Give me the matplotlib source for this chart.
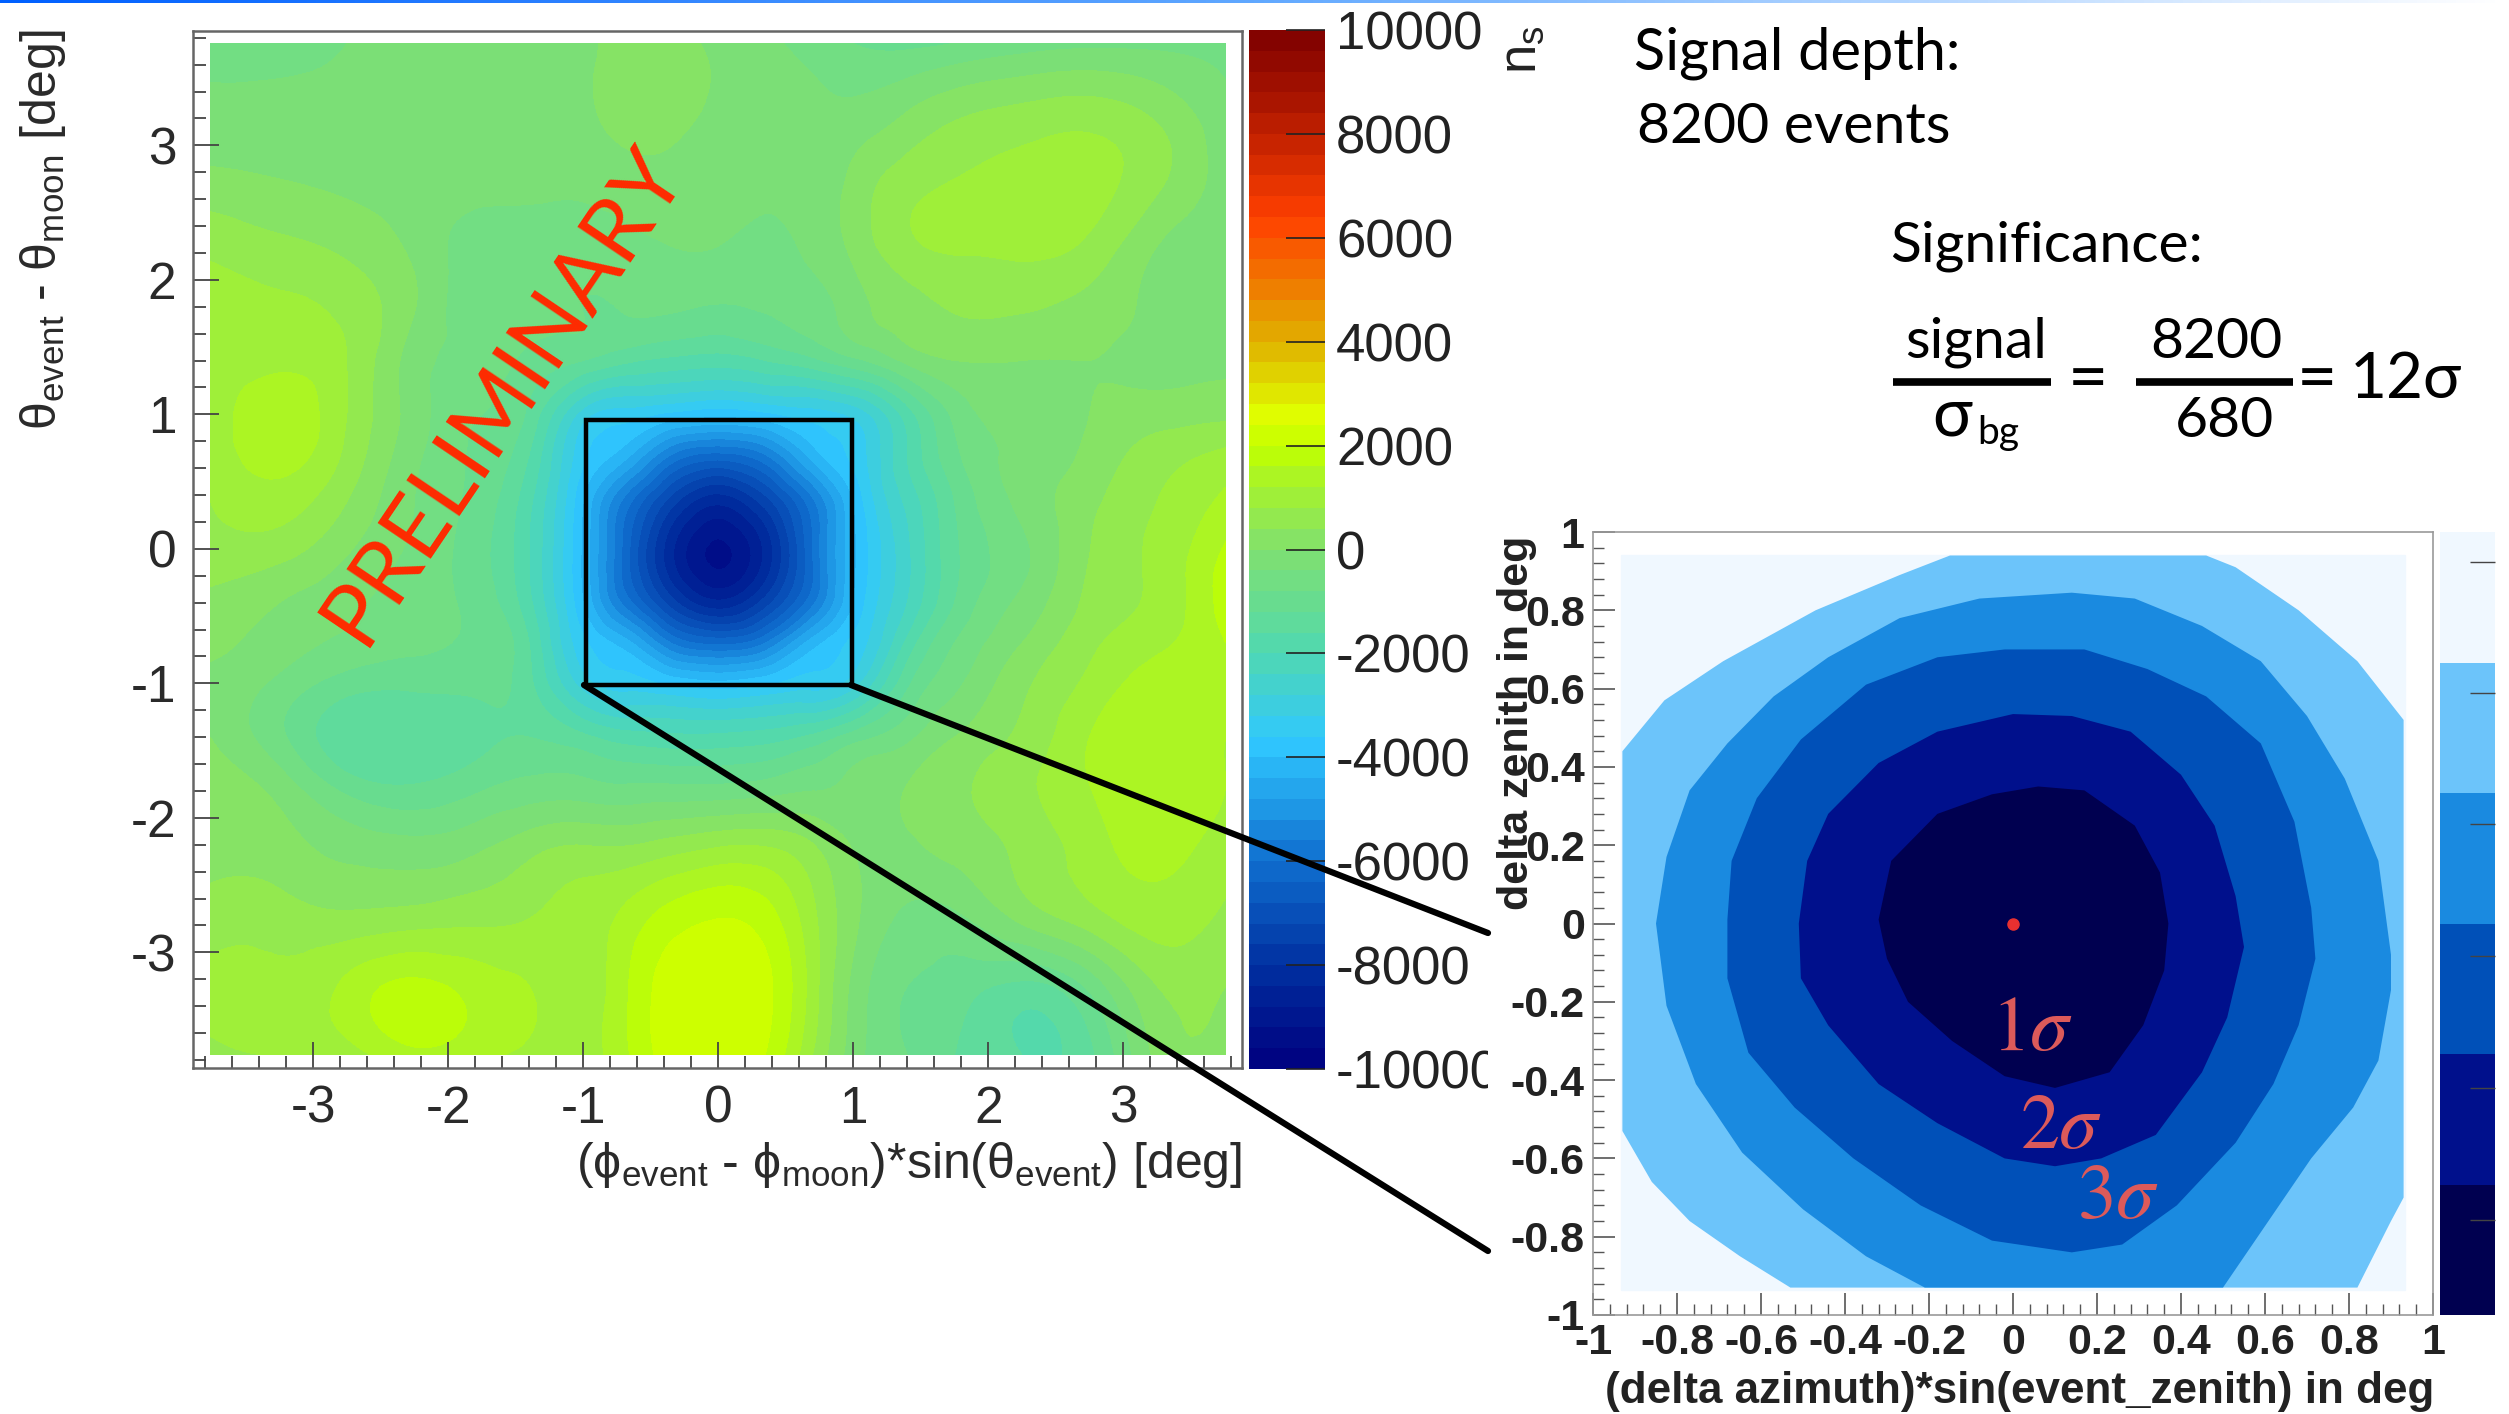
import matplotlib
matplotlib.use('Agg')
import matplotlib.pyplot as plt
import matplotlib.tri as mtri
import numpy as np
from matplotlib.colors import LinearSegmentedColormap
from matplotlib.patches import Rectangle
from matplotlib.ticker import MultipleLocator

W, H = 2509, 1414

plt.rcParams['font.family'] = ['Liberation Sans', 'DejaVu Sans']
plt.rcParams['mathtext.fontset'] = 'custom'
plt.rcParams['mathtext.rm'] = 'Liberation Sans'
plt.rcParams['mathtext.it'] = 'Liberation Sans'
plt.rcParams['mathtext.bf'] = 'Liberation Sans:bold'
plt.rcParams['axes.unicode_minus'] = False

# main map
grid_x = [-3.76, -3.25, -2.75, -2.25, -1.75, -1.4, -1.0, -0.7, -0.35, 0,
          0.35, 0.7, 1.0, 1.4, 1.75, 2.25, 2.75, 3.25, 3.76]
grid_y = [3.76, 3.25, 2.75, 2.25, 1.75, 1.4, 1.0, 0.7, 0.35, -0.05,
          -0.4, -0.7, -1.0, -1.4, -1.75, -2.25, -2.75, -3.25, -3.76]
ns_map = [
    [-500, -500, -400, -300, -300, -300, -200, 300, 200, -100, -300, -600, -800, -900, -800, -600, -500, -500, -500],
    [-300, -300, -300, -300, -300, -300, -100, 200, 200, -100, -200, -300, -300, 0, 300, 500, 600, 300, -300],
    [100, 0, -100, -200, -300, -300, -300, -200, -200, -300, -300, -300, 100, 600, 800, 950, 950, 500, -200],
    [700, 500, 300, -100, -600, -600, -600, -500, -400, -400, -500, -300, 100, 700, 850, 900, 700, 0, -300],
    [900, 900, 700, 0, -700, -700, -800, -800, -800, -900, -800, -600, -200, 200, 400, 400, 200, -100, -300],
    [900, 1100, 800, -200, -600, -900, -1200, -1500, -1700, -1800, -1600, -1300, -900, -300, 0, 0, 0, -100, -100],
    [900, 1500, 800, -200, -800, -1300, -3000, -3400, -3700, -3900, -3700, -3400, -3100, -1800, -700, -300, 0, 200, 300],
    [900, 1400, 700, -300, -900, -1600, -3500, -4200, -5600, -6100, -5600, -4200, -3500, -2000, -900, -300, 100, 600, 900],
    [800, 1000, 400, -400, -1000, -1900, -4000, -5700, -7400, -8300, -7400, -5700, -4000, -2300, -1200, -300, 300, 800, 1300],
    [600, 500, 0, -500, -1100, -2000, -4100, -6100, -8300, -9300, -8300, -6000, -4100, -2500, -1300, -500, 400, 900, 1700],
    [300, 0, -300, -600, -1000, -1900, -4000, -5700, -7400, -8300, -7400, -5700, -4000, -2400, -1200, -300, 500, 900, 1800],
    [100, -200, -500, -700, -900, -1600, -3500, -4200, -5600, -6100, -5600, -4200, -3500, -1900, -800, 0, 700, 1100, 1600],
    [-100, -500, -1000, -1100, -1100, -1500, -3000, -3400, -3700, -3900, -3700, -3400, -3000, -1300, -500, 300, 900, 1400, 1400],
    [0, -700, -1500, -1500, -1300, -1200, -1500, -1800, -1900, -1900, -1800, -1500, -1000, -500, 0, 500, 1200, 1600, 1200],
    [200, -200, -1000, -1200, -900, -700, -700, -800, -800, -800, -700, -500, -300, 0, 300, 700, 1200, 1500, 1200],
    [300, 200, -100, -200, 0, 300, 500, 500, 700, 900, 900, 500, 0, -100, 100, 500, 1000, 1300, 1000],
    [600, 600, 500, 600, 700, 800, 1000, 1300, 1800, 2000, 1800, 900, 100, -500, -500, 100, 600, 1000, 700],
    [900, 900, 1300, 1700, 1400, 1200, 1000, 1500, 2200, 2300, 2100, 1000, -100, -800, -1000, -1300, -700, 400, 400],
    [700, 800, 1000, 1500, 1300, 1100, 1000, 1500, 2200, 2300, 2000, 800, -200, -800, -1200, -1600, -1300, 100, 200],
]

# colour bar anchors, value -> colour
cbar_vals = [-10000, -8000, -6000, -3700, -2000, 0, 2000, 2600, 4000, 6400, 8000, 10000]
cbar_cols = ['#00007f', '#0030a0', '#1070d0', '#30c8ff', '#50d8b0', '#80e070',
             '#c0ff00', '#e0ff00', '#e0b000', '#ff4000', '#c02000', '#7f0000']
cbar_ticks = [-10000, -8000, -6000, -4000, -2000, 0, 2000, 4000, 6000, 8000, 10000]

# sigma contours of the zoomed map, outermost first
c0_x = [-0.93, -0.83, -0.69, -0.47, -0.27, -0.15, 0.46, 0.53, 0.68, 0.82, 0.93, 0.93, 0.90, 0.82, -0.53, -0.65, -0.77, -0.86, -0.93]
c0_y = [0.44, 0.57, 0.67, 0.80, 0.89, 0.94, 0.94, 0.91, 0.80, 0.67, 0.52, -0.70, -0.76, -0.93, -0.93, -0.85, -0.76, -0.66, -0.53]
c1_x = [-0.85, -0.825, -0.77, -0.68, -0.57, -0.44, -0.27, -0.08, 0.14, 0.29, 0.45, 0.59, 0.70, 0.79, 0.87, 0.90, 0.90, 0.87, 0.81, 0.71, 0.57, 0.50, -0.21, -0.35, -0.50, -0.645, -0.755, -0.825]
c1_y = [0, 0.17, 0.34, 0.46, 0.58, 0.68, 0.78, 0.83, 0.845, 0.83, 0.76, 0.67, 0.53, 0.37, 0.16, -0.08, -0.17, -0.35, -0.47, -0.60, -0.82, -0.93, -0.93, -0.85, -0.73, -0.585, -0.41, -0.21]
c2_x = [-0.68, -0.67, -0.61, -0.505, -0.35, -0.18, -0.02, 0.17, 0.32, 0.46, 0.59, 0.67, 0.71, 0.72, 0.68, 0.62, 0.53, 0.39, 0.26, 0.14, -0.05, -0.22, -0.38, -0.52, -0.63, -0.68]
c2_y = [0.01, 0.16, 0.32, 0.47, 0.61, 0.68, 0.70, 0.70, 0.65, 0.58, 0.46, 0.26, 0.04, -0.09, -0.26, -0.41, -0.56, -0.72, -0.82, -0.84, -0.81, -0.72, -0.60, -0.47, -0.33, -0.14]
c3_x = [-0.51, -0.49, -0.44, -0.32, -0.18, 0, 0.14, 0.28, 0.40, 0.48, 0.53, 0.55, 0.51, 0.45, 0.34, 0.21, 0.10, -0.02, -0.18, -0.32, -0.44, -0.505]
c3_y = [0, 0.16, 0.28, 0.41, 0.49, 0.535, 0.53, 0.49, 0.38, 0.25, 0.07, -0.06, -0.24, -0.38, -0.54, -0.60, -0.62, -0.60, -0.51, -0.41, -0.26, -0.14]
c4_x = [-0.32, -0.29, -0.18, -0.05, 0.06, 0.17, 0.29, 0.35, 0.37, 0.36, 0.31, 0.23, 0.10, -0.02, -0.145, -0.25, -0.30]
c4_y = [0.01, 0.16, 0.28, 0.33, 0.35, 0.34, 0.25, 0.13, 0, -0.12, -0.26, -0.38, -0.42, -0.39, -0.30, -0.20, -0.09]
sigma_cols = ['#6cc4fa', '#1a8ae0', '#0050b8', '#00108c', '#000050']
inset_bands = ['#000050', '#00108c', '#0050b8', '#1a8ae0', '#6cc4fa', '#f0f8ff']
inset_ticks = [0.73, 1.74, 2.75, 3.76, 4.77, 5.77]

sigma_labels = [r'$1\sigma$', r'$2\sigma$', r'$3\sigma$']
sigma_lab_x = [0.045, 0.115, 0.25]
sigma_lab_y = [-0.27, -0.52, -0.70]


def rect(l, t, r, b):
    return [l / W, 1 - b / H, (r - l) / W, (b - t) / H]


fig = plt.figure(figsize=(W / 100, H / 100), dpi=100)

# thin blue rule along the top edge
ax_rule = fig.add_axes(rect(0, 0, W, 3))
ax_rule.imshow([np.linspace(0, 1, 256)], aspect='auto',
               cmap=LinearSegmentedColormap.from_list('rule', ['#0060ff', '#60a8ff', '#ffffff']))
ax_rule.axis('off')

# main map
ax = fig.add_axes(rect(193, 31, 1242, 1068))
cmap = LinearSegmentedColormap.from_list(
    'ns', [((v + 10000) / 20000, c) for v, c in zip(cbar_vals, cbar_cols)])
levels = np.arange(-10000, 10001, 400)
# read values sit on a coarse grid, refine so the bands come out round
gx, gy = np.meshgrid(grid_x, grid_y)
tri = mtri.Triangulation(gx.ravel(), gy.ravel())
tri_fine, z_fine = mtri.UniformTriRefiner(tri).refine_field(np.array(ns_map, dtype=float).ravel(), subdiv=3)
cf = ax.tricontourf(tri_fine, z_fine, levels=levels, cmap=cmap, vmin=-10000, vmax=10000)
ax.set_xlim(-3.89, 3.88)
ax.set_ylim(-3.86, 3.85)
ax.set_xticks([-3, -2, -1, 0, 1, 2, 3])
ax.set_yticks([-3, -2, -1, 0, 1, 2, 3])
ax.xaxis.set_minor_locator(MultipleLocator(0.2))
ax.yaxis.set_minor_locator(MultipleLocator(0.2))
ax.tick_params(which='major', direction='in', length=19, width=1.3, color='#444444',
               labelsize=37, labelcolor='#2a2a2a', pad=12)
ax.tick_params(which='minor', direction='in', length=9, width=1.3, color='#444444')
for s in ax.spines.values():
    s.set_color('#666666')
    s.set_linewidth(1.8)
ax.add_patch(Rectangle((-0.98, -1.01), 1.97, 1.97, fill=False, ec='black', lw=3.2, zorder=5))

# colour bar
cax = fig.add_axes(rect(1249, 30, 1325, 1069))
cb = fig.colorbar(cf, cax=cax, ticks=cbar_ticks)
cb.outline.set_visible(False)
cax.tick_params(which='major', direction='in', length=28, width=1.2, color='#222222',
                labelsize=38, labelcolor='#222222', pad=8)
cax.minorticks_off()
cax.set_yticklabels([str(t) for t in cbar_ticks])

# the zoomed panel sits on a white card that cuts off whatever runs under it
ax_card = fig.add_axes(rect(1488, 520, W, H), zorder=3)
ax_card.set_facecolor('white')
ax_card.set_xticks([])
ax_card.set_yticks([])
for s in ax_card.spines.values():
    s.set_visible(False)

ax2 = fig.add_axes(rect(1593, 532, 2433, 1315), zorder=4)
ax2.set_xlim(-1, 1)
ax2.set_ylim(-1, 1)
ax2.fill([-0.934, 0.934, 0.934, -0.934], [-0.936, -0.936, 0.94, 0.94], color='#f0f8ff')
for cx, cy, col in zip([c0_x, c1_x, c2_x, c3_x, c4_x], [c0_y, c1_y, c2_y, c3_y, c4_y], sigma_cols):
    ax2.fill(cx, cy, color=col, lw=0)
ax2.plot([0], [0], 'o', color='#e83030', ms=8)
for s, x, y in zip(sigma_labels, sigma_lab_x, sigma_lab_y):
    ax2.text(x, y, s, color='#dc5a5a', fontsize=56, ha='center', va='center', math_fontfamily='stix')
ax2.set_xticks([-1, -0.8, -0.6, -0.4, -0.2, 0, 0.2, 0.4, 0.6, 0.8, 1])
ax2.set_xticklabels(['-1', '-0.8', '-0.6', '-0.4', '-0.2', '0', '0.2', '0.4', '0.6', '0.8', '1'])
ax2.set_yticks([-1, -0.8, -0.6, -0.4, -0.2, 0, 0.2, 0.4, 0.6, 0.8, 1])
ax2.set_yticklabels(['-1', '-0.8', '-0.6', '-0.4', '-0.2', '0', '0.2', '0.4', '0.6', '0.8', '1'])
ax2.xaxis.set_minor_locator(MultipleLocator(0.04))
ax2.yaxis.set_minor_locator(MultipleLocator(0.04))
ax2.tick_params(which='major', direction='in', length=16, width=1.2, color='#555555',
                labelsize=31, pad=6)
ax2.tick_params(which='minor', direction='in', length=8, width=1.0, color='#555555')
for lab in ax2.get_xticklabels() + ax2.get_yticklabels():
    lab.set_fontweight('bold')
    lab.set_color('#222222')
for s in ax2.spines.values():
    s.set_color('#999999')
    s.set_linewidth(1.2)

ax3 = fig.add_axes(rect(2440, 532, 2495, 1315), zorder=4)
ax3.pcolormesh([0, 1], range(7), [[i] for i in range(6)],
               cmap=LinearSegmentedColormap.from_list('bands', inset_bands, N=6))
ax3.set_xticks([])
ax3.yaxis.tick_right()
ax3.set_yticks(inset_ticks)
ax3.set_yticklabels([])
ax3.tick_params(direction='in', length=18, width=1.0, color='#444444')
for s in ax3.spines.values():
    s.set_visible(False)

# everything placed by eye goes on a pixel overlay
ov = fig.add_axes([0, 0, 1, 1], zorder=5)
ov.set_xlim(0, W)
ov.set_ylim(H, 0)
ov.axis('off')
ov.patch.set_alpha(0)

ov.plot([851, 1488], [685, 933], color='black', lw=4.5, solid_capstyle='round')
ov.plot([584, 1488], [685, 1251], color='black', lw=4.5, solid_capstyle='round')

ov.text(1242, 1165, r'($\mathrm{ϕ_{event}}$ - $\mathrm{ϕ_{moon}}$)*sin($\mathrm{θ_{event}}$) [deg]', fontsize=36,
        ha='right', va='center', color='#2a2a2a')
ov.text(43, 230, r'$\mathrm{θ_{event}}$ - $\mathrm{θ_{moon}}$ [deg]', fontsize=36, rotation=90,
        ha='center', va='center', color='#2a2a2a')
ov.text(1522, 50, r'$\mathrm{n_{s}}$', fontsize=38, rotation=90, ha='center', va='center', color='#222222')
ov.text(504, 395, 'PRELIMINARY', fontsize=64, rotation=56, ha='center', va='center',
        color='#ff2a00', family=['Lato', 'DejaVu Sans'])

ov.text(1517, 723, 'delta zenith in deg', fontsize=31, rotation=90, ha='center', va='center',
        color='#222222', fontweight='bold')
ov.text(2434, 1392, '(delta azimuth)*sin(event_zenith) in deg', fontsize=31.7, ha='right', va='center',
        color='#222222', fontweight='bold')

gill = ['Lato', 'DejaVu Sans']
ov.text(1634, 69, 'Signal depth:', fontsize=41.5, ha='left', va='baseline', family=gill)
ov.text(1637, 143, '8200 events', fontsize=41, ha='left', va='baseline', family=gill)
ov.text(1890, 261, 'Significance:', fontsize=41, ha='left', va='baseline', family=gill)
ov.text(1976, 358, 'signal', fontsize=41, ha='center', va='baseline', family=gill)
ov.plot([1893, 2051], [382, 382], color='black', lw=5.5, solid_capstyle='butt')
ov.text(1952, 436, 'σ', fontsize=48, ha='center', va='baseline', family=gill)
ov.text(1998, 444, 'bg', fontsize=28, ha='center', va='baseline', family=gill)
ov.text(2088, 400, '=', fontsize=50, ha='center', va='baseline', family=gill)
ov.text(2216, 358, '8200', fontsize=41, ha='center', va='baseline', family=gill)
ov.plot([2136, 2293], [382, 382], color='black', lw=5.5, solid_capstyle='butt')
ov.text(2224, 437, '680', fontsize=41, ha='center', va='baseline', family=gill)
ov.text(2317, 400, '=', fontsize=50, ha='center', va='baseline', family=gill)
ov.text(2350, 398, '12σ', fontsize=46, ha='left', va='baseline', family=gill)

fig.savefig('out.png', dpi=100)
